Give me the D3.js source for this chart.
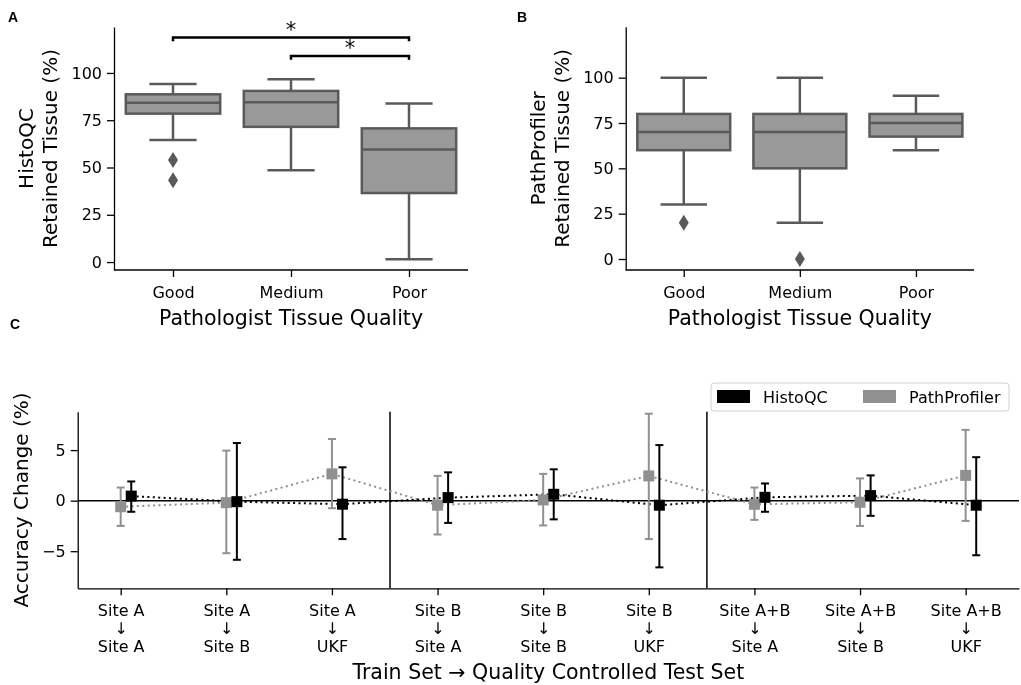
<!DOCTYPE html>
<html>
<head>
<meta charset="utf-8">
<script src="https://cdn.jsdelivr.net/npm/d3@7"></script>
<style>
  body { margin: 0; background: #fff; }
  svg { font-family: "DejaVu Sans", sans-serif; will-change: transform; }
  .panel-label { font-family: "Liberation Sans", Arial, sans-serif; font-weight: bold; font-size: 14px; }
</style>
</head>
<body>
<script>
const svgWidth = 1021
const svgHeight = 685

// panel A / B categories
const qualityCats = ["Good", "Medium", "Poor"]

// HistoQC retained tissue (%)
const histoqcWhiskerLow = [64.5, 48.5, 1.5]
const histoqcQ1 = [78.5, 71.5, 36.5]
const histoqcMedian = [84.2, 84.5, 59.5]
const histoqcQ3 = [88.7, 90.5, 70.7]
const histoqcWhiskerHigh = [94.2, 96.7, 83.8]
const histoqcOutliers = [[54, 43.2], [], []]

// PathProfiler retained tissue (%)
const pathWhiskerLow = [30, 20, 60]
const pathQ1 = [60, 50, 67.5]
const pathMedian = [70, 70, 75]
const pathQ3 = [80, 80, 80]
const pathWhiskerHigh = [100, 100, 90]
const pathOutliers = [[20], [0], []]

const boxTicks = [0, 25, 50, 75, 100]

// significance brackets on panel A: [from, to, height]
const sigPairs = [["Good", "Poor", 118.7], ["Medium", "Poor", 109]]

// panel C
const trainSets = ["Site A", "Site A", "Site A", "Site B", "Site B", "Site B", "Site A+B", "Site A+B", "Site A+B"]
const testSets = ["Site A", "Site B", "UKF", "Site A", "Site B", "UKF", "Site A", "Site B", "UKF"]

const histoqcMean = [0.45, -0.1, -0.35, 0.3, 0.63, -0.45, 0.33, 0.5, -0.45]
const histoqcLow = [-1.1, -5.85, -3.8, -2.2, -1.85, -6.6, -1.1, -1.5, -5.4]
const histoqcHigh = [1.9, 5.7, 3.3, 2.8, 3.1, 5.5, 1.7, 2.5, 4.3]

const pathMean = [-0.6, -0.2, 2.65, -0.45, 0.07, 2.45, -0.36, -0.16, 2.5]
const pathLow = [-2.5, -5.2, -0.75, -3.35, -2.45, -3.8, -1.9, -2.5, -2.0]
const pathHigh = [1.3, 4.95, 6.1, 2.45, 2.65, 8.6, 1.3, 2.2, 7.0]

const groupBreaks = [2.55, 5.55]
const accTicks = [-5, 0, 5]

const boxFill = "#999999"
const boxStroke = "#5a5a5a"
const grayColor = "#909090"

const svg = d3.select("body").append("svg")
  .attr("width", svgWidth)
  .attr("height", svgHeight)

const styleAxis = (g, size) => {
  g.selectAll("path.domain").attr("stroke", "#000").attr("stroke-width", 1.3)
  g.selectAll(".tick line").attr("stroke", "#000").attr("stroke-width", 1.3)
  g.selectAll(".tick text").attr("font-size", size).attr("fill", "#000")
    .attr("font-family", "DejaVu Sans")
}

const boxPanel = (frame, stats, yDomain, yLines) => {
  const x = d3.scalePoint()
    .domain(qualityCats)
    .range([frame.left, frame.right])
    .padding(0.5)

  const y = d3.scaleLinear()
    .domain(yDomain)
    .range([frame.bottom, frame.top])

  const bw = x.step() * 0.8

  const g = svg.append("g")

  qualityCats.forEach((c, i) => {
    const cx = x(c)
    // whiskers
    g.append("line")
      .attr("x1", cx).attr("x2", cx)
      .attr("y1", y(stats.q3[i])).attr("y2", y(stats.hi[i]))
      .attr("stroke", boxStroke).attr("stroke-width", 2.5)
    g.append("line")
      .attr("x1", cx).attr("x2", cx)
      .attr("y1", y(stats.q1[i])).attr("y2", y(stats.lo[i]))
      .attr("stroke", boxStroke).attr("stroke-width", 2.5)
    for (const v of [stats.hi[i], stats.lo[i]]) {
      g.append("line")
        .attr("x1", cx - bw / 4).attr("x2", cx + bw / 4)
        .attr("y1", y(v)).attr("y2", y(v))
        .attr("stroke", boxStroke).attr("stroke-width", 2.5)
    }
    g.append("rect")
      .attr("x", cx - bw / 2)
      .attr("y", y(stats.q3[i]))
      .attr("width", bw)
      .attr("height", y(stats.q1[i]) - y(stats.q3[i]))
      .attr("fill", boxFill)
      .attr("stroke", boxStroke)
      .attr("stroke-width", 2.5)
    g.append("line")
      .attr("x1", cx - bw / 2).attr("x2", cx + bw / 2)
      .attr("y1", y(stats.med[i])).attr("y2", y(stats.med[i]))
      .attr("stroke", boxStroke).attr("stroke-width", 2.5)
    stats.out[i].forEach(v => {
      const py = y(v)
      g.append("path")
        .attr("d", `M${cx},${py - 8} L${cx + 5},${py} L${cx},${py + 8} L${cx - 5},${py} Z`)
        .attr("fill", boxStroke)
    })
  })

  const yAxis = d3.axisLeft(y).tickValues(boxTicks).tickSize(7).tickPadding(5).tickSizeOuter(0)
  const yAxisG = svg.append("g")
    .attr("transform", `translate(${frame.left},0)`)
    .call(yAxis)
  styleAxis(yAxisG, 16)

  const xAxis = d3.axisBottom(x).tickSize(7).tickPadding(10).tickSizeOuter(0)
  const xAxisG = svg.append("g")
    .attr("transform", `translate(0,${frame.bottom})`)
    .call(xAxis)
  styleAxis(xAxisG, 16)
  xAxisG.select("path.domain").attr("d", `M${frame.left},0H${frame.right}`)

  // y label, two lines
  const yl = svg.append("text")
    .attr("transform", `translate(${frame.labelX},${(frame.top + frame.bottom) / 2}) rotate(-90)`)
    .attr("text-anchor", "middle")
    .attr("font-size", 20)
  yl.append("tspan").attr("x", 0).attr("dy", 0).text(yLines[0])
  yl.append("tspan").attr("x", 0).attr("dy", 23.5).text(yLines[1])

  svg.append("text")
    .attr("x", (frame.left + frame.right) / 2)
    .attr("y", 325)
    .attr("text-anchor", "middle")
    .attr("font-size", 20.5)
    .text("Pathologist Tissue Quality")

  return { x, y }
}

// Panel A
const frameA = { left: 114, right: 468, top: 27, bottom: 270, labelX: 33 }
const scA = boxPanel(frameA, {
  lo: histoqcWhiskerLow, q1: histoqcQ1, med: histoqcMedian, q3: histoqcQ3,
  hi: histoqcWhiskerHigh, out: histoqcOutliers
}, [-4.2, 124.3], ["HistoQC", "Retained Tissue (%)"])

sigPairs.forEach(([a, b, h]) => {
  const x1 = scA.x(a), x2 = scA.x(b)
  const yTop = scA.y(h), yTip = scA.y(h - 2)
  svg.append("path")
    .attr("d", `M${x1},${yTip} L${x1},${yTop} L${x2},${yTop} L${x2},${yTip}`)
    .attr("fill", "none")
    .attr("stroke", "#000")
    .attr("stroke-width", 2.5)
  svg.append("text")
    .attr("x", (x1 + x2) / 2)
    .attr("y", yTop - 1)
    .attr("text-anchor", "middle")
    .attr("font-size", 21)
    .attr("fill", "#000")
    .text("*")
})

// Panel B
const frameB = { left: 625.7, right: 974, top: 26.7, bottom: 270, labelX: 545 }
boxPanel(frameB, {
  lo: pathWhiskerLow, q1: pathQ1, med: pathMedian, q3: pathQ3,
  hi: pathWhiskerHigh, out: pathOutliers
}, [-6.07, 128.1], ["PathProfiler", "Retained Tissue (%)"])

// Panel C
const frameC = { left: 77.7, right: 1019, top: 411.7, bottom: 588.3 }
const xC = d3.scaleLinear().domain([-0.407, 8.505]).range([frameC.left, frameC.right])
const yC = d3.scaleLinear().domain([-8.67, 8.8]).range([frameC.bottom, frameC.top])

const cG = svg.append("g")

cG.append("line")
  .attr("x1", frameC.left).attr("x2", frameC.right)
  .attr("y1", yC(0)).attr("y2", yC(0))
  .attr("stroke", "#000").attr("stroke-width", 1.5)

groupBreaks.forEach(b => {
  cG.append("line")
    .attr("x1", xC(b)).attr("x2", xC(b))
    .attr("y1", frameC.top).attr("y2", frameC.bottom)
    .attr("stroke", "#000").attr("stroke-width", 1.5)
})

const series = [
  { name: "PathProfiler", mean: pathMean, lo: pathLow, hi: pathHigh, color: grayColor, offset: 0 },
  { name: "HistoQC", mean: histoqcMean, lo: histoqcLow, hi: histoqcHigh, color: "#000", offset: 0.1 }
]

series.forEach(s => {
  const line = d3.line()
    .x((d, i) => xC(i + s.offset))
    .y(d => yC(d))
  cG.append("path")
    .datum(s.mean)
    .attr("d", line)
    .attr("fill", "none")
    .attr("stroke", s.color)
    .attr("stroke-width", 2)
    .attr("stroke-dasharray", "2,3.4")
})

series.forEach(s => {
  s.mean.forEach((m, i) => {
    const cx = xC(i + s.offset)
    cG.append("line")
      .attr("x1", cx).attr("x2", cx)
      .attr("y1", yC(s.lo[i])).attr("y2", yC(s.hi[i]))
      .attr("stroke", s.color).attr("stroke-width", 2)
    for (const v of [s.lo[i], s.hi[i]]) {
      cG.append("line")
        .attr("x1", cx - 4).attr("x2", cx + 4)
        .attr("y1", yC(v)).attr("y2", yC(v))
        .attr("stroke", s.color).attr("stroke-width", 2)
    }
    cG.append("rect")
      .attr("x", cx - 5.5).attr("y", yC(m) - 5.5)
      .attr("width", 11).attr("height", 11)
      .attr("fill", s.color)
  })
})

const yAxisC = svg.append("g")
  .attr("transform", `translate(${frameC.left},0)`)
  .call(d3.axisLeft(yC).tickValues(accTicks).tickSize(7).tickPadding(5).tickSizeOuter(0))
styleAxis(yAxisC, 16)

const xAxisC = svg.append("g")
  .attr("transform", `translate(0,${frameC.bottom})`)
  .call(d3.axisBottom(xC).tickValues(d3.range(trainSets.length)).tickFormat(() => "").tickSize(7).tickSizeOuter(0))
styleAxis(xAxisC, 16)

xAxisC.selectAll(".tick text").each(function(d) {
  const t = d3.select(this).attr("y", 28).attr("dy", null)
  t.append("tspan").attr("x", 0).attr("dy", 0).text(trainSets[d])
  t.append("tspan").attr("x", 0).attr("dy", 18).text("↓")
  t.append("tspan").attr("x", 0).attr("dy", 18).text(testSets[d])
})

svg.append("text")
  .attr("transform", `translate(28,${(frameC.top + frameC.bottom) / 2}) rotate(-90)`)
  .attr("text-anchor", "middle")
  .attr("font-size", 20)
  .text("Accuracy Change (%)")

svg.append("text")
  .attr("x", (frameC.left + frameC.right) / 2)
  .attr("y", 679)
  .attr("text-anchor", "middle")
  .attr("font-size", 20.5)
  .text("Train Set → Quality Controlled Test Set")

// legend
const legendG = svg.append("g").attr("transform", "translate(711,383)")
legendG.append("rect")
  .attr("width", 298).attr("height", 28).attr("rx", 3)
  .attr("fill", "#fff").attr("fill-opacity", 0.8)
  .attr("stroke", "#d0d0d0")
const legendItems = [series[1], series[0]]
legendItems.forEach((s, i) => {
  const lx = 6 + i * 146
  legendG.append("rect")
    .attr("x", lx).attr("y", 7).attr("width", 33).attr("height", 13)
    .attr("fill", s.color)
  legendG.append("text")
    .attr("x", lx + 46).attr("y", 20)
    .attr("font-size", 16)
    .text(s.name)
})

// panel letters
const letters = [["A", 8, 22], ["B", 517, 22], ["C", 10, 329]]
letters.forEach(([t, x, y]) => {
  svg.append("text").attr("class", "panel-label").attr("x", x).attr("y", y).text(t)
})
</script>
</body>
</html>
